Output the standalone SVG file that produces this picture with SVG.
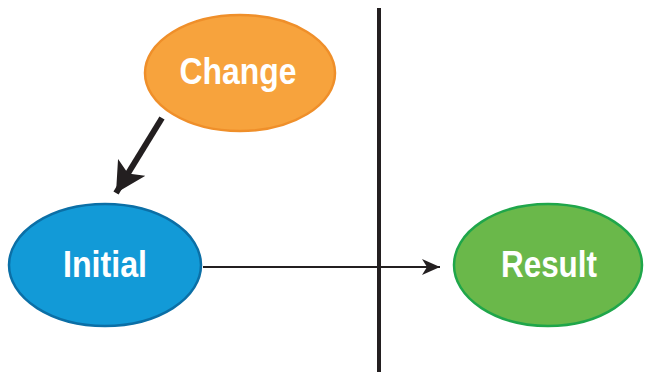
<svg xmlns="http://www.w3.org/2000/svg" width="645" height="372" viewBox="0 0 645 372">
<defs>
<marker id="thin" markerUnits="userSpaceOnUse" markerWidth="20" markerHeight="16" refX="18" refY="8" orient="auto"><path d="M0,0 L18,8 L0,16 L5,8 Z" fill="#231f20"/></marker>
<marker id="thick" markerUnits="userSpaceOnUse" markerWidth="32" markerHeight="32" refX="30" refY="16" orient="auto"><path d="M0,0 L30,16 L0,32 L7,16 Z" fill="#231f20"/></marker>
</defs>
<style>
.lbl{font-family:"Liberation Sans",Arial,sans-serif;font-weight:bold;font-size:37px;fill:#fff;text-anchor:middle}
</style>
<rect width="645" height="372" fill="#fff"/>
<line x1="379" y1="8" x2="379" y2="372" stroke="#231f20" stroke-width="4"/>
<g id="connectors">
<line x1="162" y1="118" x2="116" y2="193" stroke="#231f20" stroke-width="6" marker-end="url(#thick)"/>
<line x1="203" y1="267" x2="440" y2="267" stroke="#231f20" stroke-width="2" marker-end="url(#thin)"/>
</g>
<g id="change">
<ellipse cx="240" cy="73" rx="95" ry="58" fill="#f7a33d" stroke="#ef8f2a" stroke-width="2.5"/>
<text class="lbl" x="238" y="84" textLength="117" lengthAdjust="spacingAndGlyphs">Change</text>
</g>
<g id="initial">
<ellipse cx="105" cy="265" rx="96" ry="61" fill="#129ad7" stroke="#0b6fa6" stroke-width="2.5"/>
<text class="lbl" x="105" y="277" textLength="84" lengthAdjust="spacingAndGlyphs">Initial</text>
</g>
<g id="result">
<ellipse cx="548" cy="265" rx="94" ry="61" fill="#6ab84a" stroke="#1fa64a" stroke-width="2.5"/>
<text class="lbl" x="549" y="277" textLength="96" lengthAdjust="spacingAndGlyphs">Result</text>
</g>
</svg>
